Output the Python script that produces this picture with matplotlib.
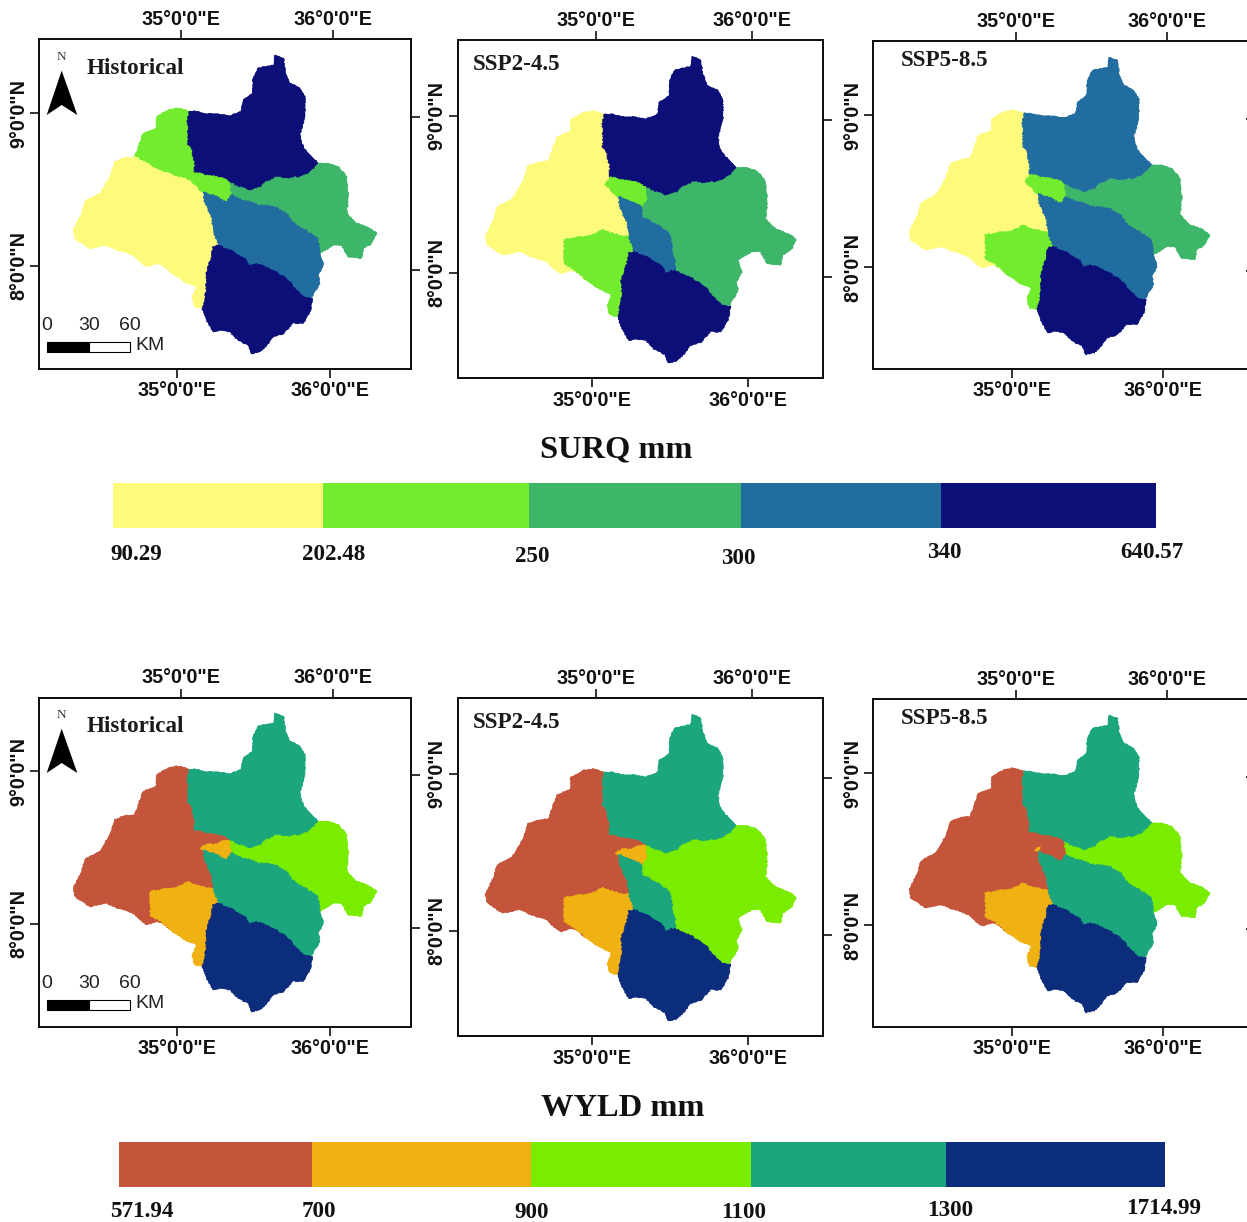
import matplotlib
matplotlib.use("Agg")
import matplotlib.pyplot as plt
from matplotlib.colors import ListedColormap
from matplotlib.patches import Polygon, Rectangle
from matplotlib.transforms import Affine2D

W, H = 1247, 1222
SANS = "Liberation Sans"
SERIF = "Liberation Serif"

NW_N = [(567, 335), (562, 370), (565, 400), (563, 430), (575, 450), (583, 480), (585, 518)]
N_D = [(585, 518), (620, 525), (650, 530), (680, 540), (690, 548)]
N_E = [(690, 548), (715, 560), (750, 572), (785, 560), (800, 545), (830, 532), (870, 535),
       (905, 530), (935, 515), (955, 490)]
N_OUT = [(955, 490), (935, 470), (915, 450), (905, 430), (900, 400), (915, 350), (915, 290),
         (900, 265), (870, 250), (855, 215), (850, 175), (825, 165), (822, 195), (775, 205),
         (760, 235), (758, 280), (730, 300), (725, 335), (690, 348), (650, 342), (620, 342),
         (590, 335), (567, 335)]
E_OUT = [(955, 490), (985, 490), (1015, 500), (1040, 530), (1045, 590), (1040, 640), (1070, 670),
         (1110, 685), (1130, 700), (1115, 730), (1090, 745), (1085, 775), (1045, 770), (1025, 735),
         (1000, 735), (960, 760)]
E_F = [(960, 760), (955, 715), (915, 690), (875, 665), (860, 640), (825, 620), (780, 615),
       (730, 600), (695, 585)]
E_D = [(690, 548), (695, 585)]
D_F_A = [(695, 585), (680, 605)]
D_F_B = [(680, 605), (650, 590), (610, 575)]
W_F = [(610, 575), (615, 610), (635, 650), (640, 690)]
F_SW = [(640, 690), (655, 735)]
F_G_A = [(655, 735), (700, 755), (740, 780), (745, 800), (765, 790), (778, 793)]
F_G_B = [(778, 793), (810, 805), (860, 835), (885, 865), (915, 892)]
F_OUT = [(960, 760), (970, 795), (955, 825), (960, 850), (935, 890), (915, 892)]
F1_F2 = [(680, 605), (682, 633), (731, 658), (765, 687), (770, 726), (780, 780), (778, 793)]
G_OUT = [(915, 892), (938, 895), (930, 935), (910, 970), (880, 968), (850, 1000), (820, 1010),
         (800, 1035), (780, 1055), (755, 1060), (745, 1035), (715, 1020), (690, 995), (660, 990),
         (640, 995), (620, 960), (608, 925)]
G_SW = [(608, 925), (620, 870), (618, 820), (635, 770), (640, 740), (655, 735)]
SW_TOP = [(450, 700), (500, 692), (530, 688), (565, 672), (600, 685), (640, 690)]
SW_OUT = [(608, 925), (585, 920), (577, 895), (590, 860), (555, 845), (510, 815)]
SW_WEST = [(510, 815), (500, 805), (475, 785), (450, 772), (450, 700)]
W_OUT = [(510, 815), (490, 795), (470, 790), (440, 800), (420, 785), (400, 765), (350, 748),
         (320, 735), (270, 745), (225, 715), (220, 690), (245, 640), (255, 605), (300, 580),
         (330, 530), (345, 485), (370, 475), (405, 470)]
NW_W = [(405, 470), (440, 490), (475, 510), (530, 530), (570, 540)]
NW_D = [(570, 540), (585, 518)]
W_D = [(570, 540), (585, 552), (600, 571), (610, 575)]
NW_OUT = [(405, 470), (430, 400), (470, 385), (470, 350), (510, 328), (540, 325), (567, 335)]
D1_D2 = [(600, 571), (620, 558), (650, 558), (678, 545), (690, 548)]
D2A_D2B = [(620, 558), (618, 572), (610, 575)]

BASINS = {
    "nw": NW_N + NW_D + NW_W[::-1] + NW_OUT,
    "w": NW_W + W_D + W_F + SW_TOP[::-1] + SW_WEST[::-1] + W_OUT,
    "sw": SW_TOP + F_SW + G_SW[::-1] + SW_OUT + SW_WEST,
    "n": NW_N + N_D + N_E + N_OUT,
    "d1": NW_D + N_D + D1_D2[::-1] + W_D[:3][::-1],
    "d2a": [(600, 571), (620, 558)] + D2A_D2B,
    "d2b": D1_D2[1:] + E_D + D_F_A + D_F_B + D2A_D2B[::-1],
    "e": N_E + E_OUT + E_F + E_D[::-1],
    "f1": W_F + F_SW + F_G_A + F1_F2[::-1] + D_F_B,
    "f2": F1_F2 + F_G_B + F_OUT[::-1] + E_F + D_F_A,
    "g": F_G_A + F_G_B + G_OUT + G_SW,
}

# class index of every sub-basin in every map
SURQ_HIST = dict(nw=1, w=0, sw=0, n=4, d1=1, d2a=1, d2b=1, e=2, f1=3, f2=3, g=4)
SURQ_245 = dict(nw=0, w=0, sw=1, n=4, d1=1, d2a=1, d2b=1, e=2, f1=3, f2=2, g=4)
SURQ_585 = dict(nw=0, w=0, sw=1, n=3, d1=1, d2a=1, d2b=1, e=2, f1=3, f2=3, g=4)
WYLD_HIST = dict(nw=0, w=0, sw=1, n=3, d1=0, d2a=1, d2b=1, e=2, f1=3, f2=3, g=4)
WYLD_245 = dict(nw=0, w=0, sw=1, n=3, d1=0, d2a=1, d2b=1, e=2, f1=3, f2=2, g=4)
WYLD_585 = dict(nw=0, w=0, sw=1, n=3, d1=0, d2a=1, d2b=0, e=2, f1=3, f2=3, g=4)

SURQ_COLORS = ["#FEFB7C", "#72EC2F", "#3DB66A", "#226D9F", "#0C0F78"]
WYLD_COLORS = ["#C4553B", "#F0B112", "#7AEC00", "#1BA67E", "#0C2C7C"]

SURQ_LABELS = ["90.29", "202.48", "250", "300", "340", "640.57"]
WYLD_LABELS = ["571.94", "700", "900", "1100", "1300", "1714.99"]
SCENARIOS = ["Historical", "SSP2-4.5", "SSP5-8.5"]
LON_TICKS = [35, 36]
LAT_TICKS = [8, 9]
LON_LABELS = ["35°0'0\"E", "36°0'0\"E"]
LAT_LABELS = ["8°0'0\"N", "9°0'0\"N"]

# layout in picture pixels: frame (l, r, t, b), x of 35E / 36E, y of 9N / 8N, scenario label x, y
FRAMES = [
    dict(box=(39, 410.5, 39.5, 369), lon=(179, 331.5), lat=(115, 267.7), label=(87, 69)),
    dict(box=(457.7, 823, 40, 378), lon=(593.7, 750), lat=(118, 274.7), label=(472.5, 65)),
    dict(box=(873, 1246, 41.3, 369), lon=(1014, 1165), lat=(117, 269), label=(901, 60)),
]
ROW_OFFSET = [0, 658]
TILT = 0.013

SURQ_EDGES = [113, 323, 529, 741, 941, 1156]
WYLD_EDGES = [119, 311.5, 530.5, 750.5, 946, 1165]
SURQ_LABEL_POS = [(136, 554), (334, 555), (532, 557), (738, 559), (944, 553), (1152, 552)]
WYLD_LABEL_POS = [(142, 1211.5), (319, 1211.5), (532, 1212), (744, 1212), (950, 1211), (1164, 1209)]


def to_lonlat(points):
    return [(35 + (x - 537) / 458, 8 + (803 - y) / 458) for x, y in points]


fig = plt.figure(figsize=(W / 100, H / 100), dpi=100, facecolor="white")
px = Affine2D().scale(1 / W, -1 / H).translate(0, 1) + fig.transFigure


def draw_map(frame, dy, classes, colors, name, is_hist):
    l, r, t, b = frame["box"]
    t, b = t + dy, b + dy
    ax = fig.add_axes([l / W, 1 - b / H, (r - l) / W, (b - t) / H])
    x35, x36 = frame["lon"]
    y9, y8 = frame["lat"][0] + dy, frame["lat"][1] + dy
    xlim = (35 + (l - x35) / (x36 - x35), 35 + (r - x35) / (x36 - x35))
    ylim = (8 + (y8 - b) / (y8 - y9), 8 + (y8 - t) / (y8 - y9))
    ax.set_xlim(xlim)
    ax.set_ylim(ylim)

    # plain layer first so the wiggly edges leave no white seams
    for key, pts in BASINS.items():
        c = colors[classes[key]]
        ax.add_patch(Polygon(to_lonlat(pts), closed=True, facecolor=c, edgecolor=c, lw=0.5, zorder=1))
    for key, pts in BASINS.items():
        c = colors[classes[key]]
        patch = Polygon(to_lonlat(pts), closed=True, facecolor=c, edgecolor=c, lw=0.5, zorder=2)
        patch.set_sketch_params(scale=0.8, length=5, randomness=30)
        ax.add_patch(patch)

    font = dict(family=SANS, fontweight="bold", fontsize=14.2, color="#111111")
    ax.set_xticks([v - TILT for v in LON_TICKS])
    ax.set_xticklabels(LON_LABELS, **font)
    ax.set_yticks([v + TILT for v in LAT_TICKS])
    ax.set_yticklabels(LAT_LABELS, rotation=90, va="center", **font)
    ax.tick_params(length=6.5, width=1.2, color="#111111")
    ax.tick_params(axis="x", pad=2.5)
    ax.tick_params(axis="y", pad=1.5)

    top = ax.twiny()
    top.set_xlim(xlim)
    top.set_xticks([v + TILT for v in LON_TICKS])
    top.set_xticklabels(LON_LABELS, **font)
    top.tick_params(length=6.5, width=1.2, pad=1, color="#111111")

    right = ax.twinx()
    right.set_ylim(ylim)
    right.set_yticks([v - TILT for v in LAT_TICKS])
    right.set_yticklabels([])
    right.tick_params(length=6.5, width=1.2, color="#111111")

    for a in (ax, top, right):
        for s in a.spines.values():
            s.set_linewidth(1.3)
            s.set_color("#111111")
        if l > 800:
            a.spines["right"].set_visible(False)

    lx, ly = frame["label"]
    fig.text(lx, ly + dy, name, transform=px, family=SERIF, fontweight="bold", fontsize=16.6,
             color="#1a1a1a", va="center", ha="left")

    if is_hist:
        # north arrow and scale bar
        fig.add_artist(Polygon([(61.7, 70.7 + dy), (77.3, 115 + dy), (61.7, 105 + dy), (46.7, 115 + dy)],
                               closed=True, facecolor="black", edgecolor="none", transform=px))
        fig.text(61.7, 57 + dy, "N", transform=px, family=SERIF, fontsize=9.5, color="#333333",
                 ha="center", va="center")
        fig.add_artist(Rectangle((46.7, 341.7 + dy), 42.6, 10, facecolor="black", edgecolor="black",
                                 lw=0.8, transform=px))
        fig.add_artist(Rectangle((89.3, 341.7 + dy), 40.7, 10, facecolor="white", edgecolor="black",
                                 lw=0.8, transform=px))
        for tx, s in zip([47, 88.7, 129.7], ["0", "30", "60"]):
            fig.text(tx, 326 + dy, s, transform=px, family=SANS, fontsize=14, color="#222222",
                     ha="center", va="center")
        fig.text(135, 345.5 + dy, "KM", transform=px, family=SANS, fontsize=14, color="#222222",
                 ha="left", va="center")


def draw_legend(edges, top, bottom, colors, labels, label_pos, title, title_x, title_y):
    ax = fig.add_axes([edges[0] / W, 1 - bottom / H, (edges[-1] - edges[0]) / W, (bottom - top) / H])
    ax.pcolormesh(edges, [0, 1], [list(range(len(colors)))], cmap=ListedColormap(colors),
                  vmin=-0.5, vmax=len(colors) - 0.5)
    ax.axis("off")
    for (tx, ty), s in zip(label_pos, labels):
        fig.text(tx, ty, s, transform=px, family=SERIF, fontweight="bold", fontsize=16.6,
                 color="#111111", ha="center", va="center")
    fig.text(title_x, title_y, title, transform=px, family=SERIF, fontweight="bold", fontsize=23.4,
             color="#111111", ha="center", va="center")


rows = [
    (ROW_OFFSET[0], [SURQ_HIST, SURQ_245, SURQ_585], SURQ_COLORS),
    (ROW_OFFSET[1], [WYLD_HIST, WYLD_245, WYLD_585], WYLD_COLORS),
]
for dy, class_sets, colors in rows:
    for i, frame in enumerate(FRAMES):
        draw_map(frame, dy, class_sets[i], colors, SCENARIOS[i], i == 0)

draw_legend(SURQ_EDGES, 483, 528.5, SURQ_COLORS, SURQ_LABELS, SURQ_LABEL_POS, "SURQ mm", 616.5, 450)
draw_legend(WYLD_EDGES, 1141.5, 1187, WYLD_COLORS, WYLD_LABELS, WYLD_LABEL_POS, "WYLD mm", 622.5, 1108)

fig.savefig("out.png", dpi=100)
plt.close(fig)
